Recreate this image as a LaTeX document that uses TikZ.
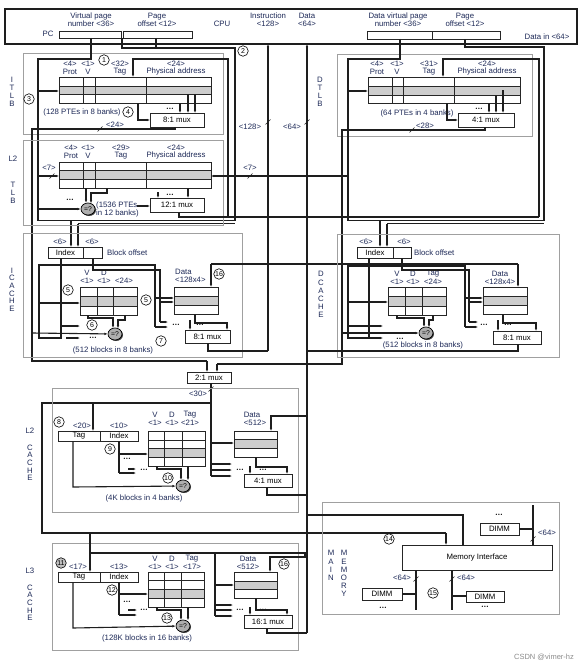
\documentclass[tikz,border=0pt]{standalone}
\usepackage{fontspec}
\setmainfont{Liberation Sans}
\usetikzlibrary{arrows.meta,shapes.geometric}
\definecolor{txtc}{RGB}{30,42,88}
\definecolor{boxg}{RGB}{160,160,160}
\definecolor{rowg}{RGB}{205,205,205}
\definecolor{wirec}{RGB}{30,30,30}
\newcommand\tbl[8]{%
  \fill[black!75] (#1+1.3,#2+1.3) rectangle (#3+1.3,#4+1.3);
  \fill[white] (#1,#2) rectangle (#3,#4);
  \fill[rowg] (#1,#5) rectangle (#3,#6);
  \foreach \yy in {#7} \draw[tl] (#1,\yy) -- (#3,\yy);
  \foreach \xx in {#8} \draw[tl] (\xx,#2) -- (\xx,#4);
  \draw[tl] (#1,#2) rectangle (#3,#4);}
\newcommand\muxb[6]{%
  \fill[black!75] (#2+1.3,#3+1.3) rectangle (#4+1.3,#5+1.3);
  \draw[tl,fill=white] (#2,#3) rectangle (#4,#5);
  \node[text=black] (#1) at ({(#2+#4)/2},{(#3+#5)/2}) {#6};}
\newcommand\hd[4]{\node at (#1,#2) {#3}; \node at (#1,#2+7.8) {#4};}
\newcommand\slh[2]{\draw[wire, line width=0.6pt] (#1-2.5,#2+2.5) -- (#1+2.5,#2-2.5);}
\newcommand\dts{\textbullet\hspace{0.8pt}\textbullet\hspace{0.8pt}\textbullet}
\newcommand\cmpn[3]{\fill[black!75] (#2+1,#3+1) ellipse (7 and 6); \node[cmp] (#1) at (#2,#3) {=?};}
\begin{document}
\begin{tikzpicture}[x=1pt,y=-1pt,
  every node/.style={font=\fontsize{7.8}{8.3}\selectfont, text=txtc, inner sep=0pt},
  wire/.style={line width=1.1pt, draw=wirec},
  ar/.style={wire, -{Latex[length=3.2pt,width=2.6pt]}},
  tl/.style={line width=0.9pt, draw=black!85},
  gbox/.style={draw=boxg, line width=0.9pt},
  cn/.style={circle, draw=black, line width=0.6pt, fill=white, minimum size=10.5pt, inner sep=0pt, font=\fontsize{7}{7}\selectfont, text=black},
  cmp/.style={ellipse, draw=black, line width=0.7pt, fill=rowg!85!black, minimum width=14pt, minimum height=12pt, inner sep=0pt, text=black, font=\fontsize{6.8}{6.8}\selectfont},
  dd/.style={font=\fontsize{5}{5}\selectfont, text=black},
]
\fill[white] (0,0) rectangle (584,669);
\useasboundingbox (0,0) rectangle (584,669);
% ---------------- CPU
\draw[wire, line width=1.2pt] (5,9) rectangle (577,44);
\node[align=center] (vpnl) at (91,20) {Virtual page\\number <36>};
\node[align=center] (pol) at (157,20) {Page\\offset <12>};
\node (cpul) at (222,24) {CPU};
\node[align=center] (insl) at (268,20) {Instruction\\<128>};
\node[align=center] (datl) at (307,20) {Data\\<64>};
\node[align=center] (dvpl) at (398,20) {Data virtual page\\number <36>};
\node[align=center] (dpol) at (465,20) {Page\\offset <12>};
\node (dinl) at (547,37) {Data in <64>};
\node (pcl) at (48,34) {PC};
\muxb{pc1}{59}{31}{121}{38}{}
\muxb{pc2}{123}{31}{192}{38}{}
\muxb{dr1}{367}{31}{432}{39}{}
\muxb{dr2}{432}{31}{500}{39}{}
% ---------------- ITLB
\draw[gbox] (23,53) rectangle (223,134);
\foreach \t [count=\i] in {I,T,L,B} \node at (12,72+8*\i) {\t};
\hd{70}{64}{<4>}{Prot} \hd{88}{64}{<1>}{V} \hd{120}{64}{<32>}{Tag} \hd{176}{64}{<24>}{Physical address}
\tbl{59}{77}{211}{103}{86}{94}{86,94}{83,95,146}
\muxb{imux}{150}{113}{204}{127}{8:1 mux}
\node at (82,112) {(128 PTEs in 8 banks)};
\node[dd] at (170,109) {\dts};
\draw[wire] (91,38) -- (91,59) -- (38,59) -- (38,220.5) -- (235,220.5) -- (235,48) -- (122,48) -- (122,38);
\draw[wire] (156,38) -- (156,48);
\draw[wire] (78,223.5) -- (235,223.5);
\draw[ar] (71,220.5) -- (71,247);
\draw[ar] (78,223.5) -- (78,247);
\draw[ar] (38,91) -- (59,91);
\draw[ar] (228,217) -- (228,59) -| (133,77);
\draw[ar] (138,103) |- (150,120);
\draw[ar] (180,103) -- (180,113);
\draw[ar] (188,94) -- (188,113);
\draw[ar] (195,94) -- (195,113);
\draw[wire] (175,127) -- (175,129) -- (32,129) -- (32,361) -- (207,361);
\slh{100}{129} \node at (115,125) {<24>};
\node[cn] at (104,60) {1};
\node[cn] at (243,51) {2};
\node[cn] at (29,99) {3};
\node[cn] at (128,112) {4};
% ---------------- L2 TLB
\draw[gbox] (23,140) rectangle (223,225);
\node at (13,159) {L2};
\foreach \t [count=\i] in {T,L,B} \node at (13,177+8*\i) {\t};
\hd{71}{148}{<4>}{Prot} \hd{88}{148}{<1>}{V} \hd{121}{148}{<29>}{Tag} \hd{176}{148}{<24>}{Physical address}
\tbl{59}{162}{211}{188}{170}{179}{170,179}{83,95,146}
\muxb{l2tmux}{150}{198}{204}{212}{12:1 mux}
\cmpn{l2tc}{88}{209}
\node[dd] at (70,200) {\dts};
\node[anchor=west, align=left] at (96,209.5) {(1536 PTEs\\in 12 banks)};
\node at (49,168) {<7>};
\draw[ar] (38,176) -- (59,176); \slh{52}{176}
\draw[ar] (348,176) -- (211,176); \slh{250}{176} \node at (250,168) {<7>};
\draw[ar] (38,209) -- (l2tc);
\draw[ar] (86,188) -- (86,202.8);
\draw[ar] (107,188) -- (107,193) -- (91,193) -- (91,203.3);
\draw[ar] (137,206) -- (150,206);
\draw[ar] (188,188) -- (188,198);
\draw[ar] (158,192) -- (158,198);
\node[dd] at (170,195) {\dts};
\draw[wire] (179,212) -- (179,217) -- (539,217);
% ---------------- ICACHE
\draw[gbox] (23,233) rectangle (242,357);
\foreach \t [count=\i] in {I,C,A,C,H,E} \node at (12,263+7.6*\i) {\t};
\node at (60,242) {<6>}; \node at (92,242) {<6>};
\muxb{iidx}{48}{247}{83}{258}{Index}
\muxb{ioff}{83}{247}{102}{258}{}
\node[anchor=west] at (107,253) {Block offset};
\tbl{80}{287}{137}{315}{296}{306}{296,306}{97,113}
\hd{87}{273}{V}{<1>} \hd{104}{273}{D}{<1>} \node at (124,281) {<24>};
\node[anchor=west] at (175,272) {Data};
\node[anchor=west] at (175,280) {<128x4>};
\tbl{174}{287}{218}{314}{296}{305}{296,305}{}
\cmpn{icmp}{115}{334}
\muxb{icmux}{185}{330}{230}{343}{8:1 mux}
\node at (113,350) {(512 blocks in 8 banks)};
\draw[wire] (61,258) -- (61,338) -- (39,338) -- (39,265) -- (155,265) -- (155,327);
\draw[wire] (93,258) -- (93,270) -- (160,270) -- (160,322);
\draw[ar] (155,298) -- (174,298);
\draw[ar] (160,302) -- (174,302);
\draw[ar] (155,327) -- (168,327);
\draw[ar] (160,322) -- (168,322);
\node[dd] at (176,325) {\dts};
\node[dd] at (200,325) {\dts};
\draw[ar] (39,303) -- (80,303);
\draw[ar] (61,326) -- (80,326);
\draw[ar] (66,338) -- (80,338);
\node[dd] at (93,338) {\dts};
\draw[ar] (32,333) -- (icmp);
\draw[ar] (88,315) -- (88,318) -- (113,318) -- (113,328);
\draw[ar] (125,315) -- (125,320) -- (118,320) -- (118,328.3);
\draw[ar] (195,314) -- (195,323) -- (227,323) -- (227,330);
\draw[ar] (190,320) -- (190,330);
\draw[wire] (208,343) -- (208,351) -- (268,351);
\draw[ar] (268,351) -- (268,44);
\slh{268}{122} \node at (250,127) {<128>};
\draw[wire] (211,264) -- (518,264);
\draw[ar] (211,264) -- (211,287);
\node[cn] at (68,290) {5};
\node[cn] at (146,300) {5};
\node[cn] at (92,325) {6};
\node[cn] at (161,341) {7};
\node[cn] at (219,274) {16};
% ---------------- DTLB
\draw[gbox] (337,54) rectangle (532,136);
\foreach \t [count=\i] in {D,T,L,B} \node at (320,72+8*\i) {\t};
\hd{377}{64}{<4>}{Prot} \hd{397}{64}{<1>}{V} \hd{429}{64}{<31>}{Tag} \hd{487}{64}{<24>}{Physical address}
\tbl{368}{77}{520}{103}{86}{95}{86,95}{392,403,454}
\muxb{dmux}{458}{113}{514}{127}{4:1 mux}
\node at (417,113) {(64 PTEs in 4 banks)};
\node[dd] at (479,109) {\dts};
\draw[wire] (400,39) -- (400,59) -- (348,59) -- (348,220.5) -- (544,220.5) -- (544,47) -- (465,47) -- (465,39);
\draw[wire] (387,223.5) -- (544,223.5);
\draw[ar] (348,91) -- (368,91);
\draw[ar] (539,217) -- (539,59) -| (443,77);
\draw[ar] (380,220.5) -- (380,247);
\draw[ar] (387,223.5) -- (387,247);
\draw[ar] (447,103) |- (458,120);
\draw[ar] (489,103) -- (489,113);
\draw[ar] (496,95) -- (496,113);
\draw[ar] (503,90) -- (503,113);
\draw[wire] (485,127) -- (485,130) -- (342,130) -- (342,364) -- (217,364);
\slh{412}{130} \node at (425,126) {<28>};
\draw[ar] (307,633) -- (307,44);
\slh{307}{122} \node at (292,127) {<64>};
% ---------------- DCACHE
\draw[gbox] (337,234) rectangle (559,357);
\foreach \t [count=\i] in {D,C,A,C,H,E} \node at (321,266+8.2*\i) {\t};
\node at (366,242) {<6>}; \node at (404,242) {<6>};
\muxb{didx}{357}{247}{393}{258}{Index}
\muxb{doff}{393}{247}{411}{258}{}
\node[anchor=west] at (414,253) {Block offset};
\tbl{388}{287}{446}{315}{296}{306}{296,306}{405,422}
\hd{397}{274}{V}{<1>} \hd{413}{274}{D}{<1>} \hd{433}{274}{Tag}{<24>}
\node at (500,274) {Data};
\node at (500,281.5) {<128x4>};
\tbl{483}{287}{527}{314}{296}{305}{296,305}{}
\cmpn{dcmp}{426}{333}
\muxb{dcmux}{493}{331}{541}{344}{8:1 mux}
\node at (423,345) {(512 blocks in 8 banks)};
\draw[wire] (369,258) -- (369,338) -- (348,338) -- (348,266) -- (465,266) -- (465,327);
\draw[wire] (402,258) -- (402,270) -- (469,270) -- (469,322);
\draw[ar] (465,298) -- (483,298);
\draw[ar] (469,302) -- (483,302);
\draw[ar] (465,327) -- (478,327);
\draw[ar] (469,322) -- (478,322);
\node[dd] at (484,325) {\dts};
\node[dd] at (508,325) {\dts};
\draw[ar] (348,302) -- (388,302);
\draw[ar] (348,326) -- (383,326);
\draw[ar] (369,338) -- (383,338);
\node[dd] at (400,339) {\dts};
\draw[ar] (342,333) -- (dcmp);
\draw[ar] (397,315) -- (397,318) -- (424,318) -- (424,327);
\draw[ar] (433,315) -- (433,320) -- (429,320) -- (429,327.3);
\draw[ar] (503,314) -- (503,323) -- (536,323) -- (536,331);
\draw[ar] (498,320) -- (498,331);
\draw[wire] (518,344) -- (518,351) -- (307,351);
\draw[ar] (518,264) -- (518,287);
% ---------------- 2:1 mux
\muxb{m21}{187}{372}{231}{383}{2:1 mux}
\draw[ar] (207,361) -- (207,372);
\draw[ar] (217,364) -- (217,372);
\draw[wire] (211,383) -- (211,476);
\slh{211}{389} \node at (198,394) {<30>};
\draw[wire] (211,403) -- (42,403) -- (42,533) -- (446,533);
\draw[ar] (446,533) -- (446,545);
% ---------------- L2 cache
\draw[gbox] (52,388) rectangle (298,512);
\node at (30,431) {L2};
\foreach \t [count=\i] in {C,A,C,H,E} \node at (30,440+7.6*\i) {\t};
\node at (82,426) {<20>}; \node at (119,426) {<10>};
\muxb{l2tag}{58}{431}{100}{441}{Tag}
\muxb{l2idx}{100}{431}{138}{441}{Index}
\tbl{148}{431}{205}{466}{448}{457}{440,448,457}{164,182}
\hd{155}{415}{V}{<1>} \hd{172}{415}{D}{<1>} \hd{190}{415}{Tag}{<21>}
\node at (252,415) {Data}; \node at (255,423) {<512>};
\tbl{234}{431}{277}{457}{439}{448}{439,448}{}
\cmpn{l2cmp}{183}{486}
\muxb{l2mux}{244}{474}{292}{487}{4:1 mux}
\node at (144,498) {(4K blocks in 4 banks)};
\draw[ar] (93,403) -- (93,431);
\draw[wire] (119,441) -- (119,473);
\draw[ar] (119,454) -- (148,454);
\draw[ar] (119,473) -- (136,473);
\draw[ar] (128,469) -- (136,469);
\node[dd] at (127,459) {\dts};
\node[dd] at (144,470) {\dts};
\draw[ar] (73,441) -- (73,487) -- (l2cmp);
\draw[ar] (157,466) -- (157,469) -- (181,469) -- (181,480);
\draw[ar] (188,466) -- (188,480.3);
\draw[ar] (211,443) -- (234,443);
\draw[ar] (211,464) -- (232,464);
\draw[ar] (211,470) -- (232,470);
\draw[ar] (211,476) -- (232,476);
\node[dd] at (240,470) {\dts};
\node[dd] at (263,470) {\dts};
\draw[ar] (250,466) -- (250,474);
\draw[ar] (256,457) -- (256,467) -- (287,467) -- (287,474);
\draw[wire] (267,487) -- (267,495) -- (307,495);
\draw[ar] (307,416) -- (271,416) -- (271,431);
\node[cn] at (59,422) {8};
\node[cn] at (110,449) {9};
\node[cn] at (168,478) {10};
% ---------------- L3 cache
\draw[gbox] (52,543) rectangle (298,650);
\node at (30,571) {L3};
\foreach \t [count=\i] in {C,A,C,H,E} \node at (30,580+7.6*\i) {\t};
\node at (78,567) {<17>}; \node at (119,567) {<13>};
\muxb{l3tag}{58}{572}{100}{582}{Tag}
\muxb{l3idx}{100}{572}{138}{582}{Index}
\tbl{148}{572}{204}{607}{589}{598}{580,589,598}{164,181}
\hd{155}{559}{V}{<1>} \hd{172}{559}{D}{<1>} \hd{192}{559}{Tag}{<17>}
\node at (248,559) {Data}; \node at (248,567) {<512>};
\tbl{234}{572}{277}{598}{581}{589}{581,589}{}
\cmpn{l3cmp}{183}{626}
\muxb{l3mux}{244}{615}{292}{628}{16:1 mux}
\node at (147,638) {(128K blocks in 16 banks)};
\draw[ar] (90,533) -- (90,572);
\draw[wire] (90,553) -- (305,553) -- (305,557);
\draw[wire] (215,553) -- (215,616);
\draw[ar] (215,585) -- (234,585);
\draw[ar] (215,605) -- (233,605);
\draw[ar] (215,610) -- (233,610);
\draw[ar] (215,616) -- (233,616);
\node[dd] at (240,610) {\dts};
\node[dd] at (263,610) {\dts};
\draw[ar] (250,607) -- (250,615);
\draw[ar] (256,598) -- (256,610) -- (287,610) -- (287,615);
\draw[wire] (267,628) -- (267,633) -- (307,633);
\draw[ar] (307,557) -- (270,557) -- (270,572);
\draw[wire] (119,582) -- (119,615);
\draw[ar] (119,594) -- (148,594);
\draw[ar] (119,615) -- (137,615);
\draw[ar] (128,610) -- (137,610);
\node[dd] at (127,602) {\dts};
\node[dd] at (144,610) {\dts};
\draw[ar] (73,582) -- (73,628) -- (l3cmp);
\draw[ar] (157,607) -- (157,610) -- (181,610) -- (181,620);
\draw[ar] (188,607) -- (188,620.3);
\node[cn, fill=gray!50] at (61,563) {11};
\node[cn] at (112,590) {12};
\node[cn] at (167,618) {13};
\node[cn] at (284,564) {16};
% ---------------- main memory
\draw[gbox] (322,502) rectangle (559,614);
\foreach \t [count=\i] in {M,A,I,N} \node at (331,545+8.2*\i) {\t};
\foreach \t [count=\i] in {M,E,M,O,R,Y} \node at (344,545+8.2*\i) {\t};
\muxb{memif}{402}{545}{552}{570}{Memory Interface}
\muxb{dimm1}{480}{523}{519}{535}{DIMM}
\muxb{dimm2}{362}{588}{402}{600}{DIMM}
\muxb{dimm3}{466}{591}{504}{602}{DIMM}
\node[dd] at (499,515) {\dts};
\node[dd] at (383,608) {\dts};
\node[dd] at (485,607) {\dts};
\draw[wire] (307,515) -- (463,515) -- (463,545);
\draw[wire] (519,529) -- (533,529);
\draw[wire] (533,505) -- (533,545);
\slh{533}{539} \node at (547,533) {<64>};
\draw[wire] (402,594) -- (416,594);
\draw[wire] (416,570) -- (416,610);
\slh{416}{579} \node at (402,578) {<64>};
\draw[wire] (452,596) -- (466,596);
\draw[wire] (452,570) -- (452,610);
\slh{452}{579} \node at (466,578) {<64>};
\node[cn] at (389,539) {14};
\node[cn] at (433,593) {15};
\node[text=black!45, font=\fontsize{7.5}{8}\selectfont] at (544,657) {CSDN @vimer-hz};
\end{tikzpicture}
\end{document}
